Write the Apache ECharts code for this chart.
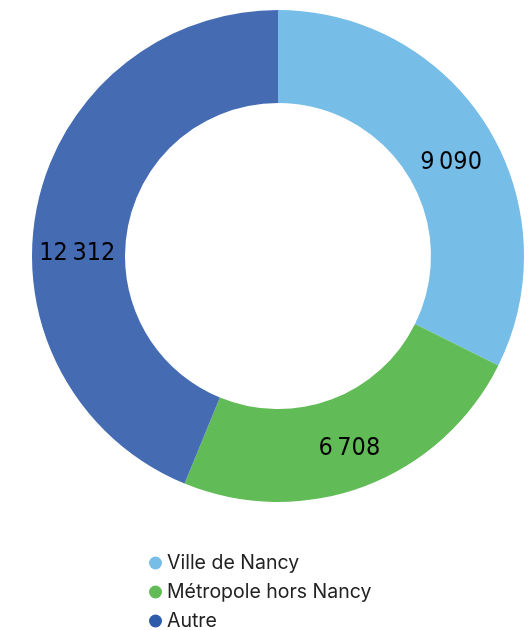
<!DOCTYPE html>
<html>
<head>
<meta charset="utf-8">
<script src="https://cdn.jsdelivr.net/npm/echarts@6/dist/echarts.min.js"></script>
<style>
  html, body { margin: 0; padding: 0; background: #fff; }
  #pie_chart { width: 530px; height: 630px; }
</style>
</head>
<body>
<div id="pie_chart"></div>
<script>
// 数据
const categories = ['Ville de Nancy', 'Métropole hors Nancy', 'Autre'];
const values = [9090, 6708, 12312];
const colors = ['#76BDE8', '#61BB56', '#456CB3'];
const legendColors = ['#76BDE8', '#61BB56', '#2E5BAA'];
// 标签微调
const labelShift = [[1, 13], [0, 3], [-2, 37]];

// 千位窄空格
function fmt(v) {
  return String(v).replace(/\B(?=(\d{3})+(?!\d))/g, '\u2009');
}

const chart = echarts.init(document.getElementById('pie_chart'));

const option = {
  animation: false,
  legend: {
    orient: 'vertical',
    left: 144,
    top: 548,
    height: 90,
    icon: 'circle',
    itemWidth: 13,
    itemHeight: 13,
    itemGap: 9,
    textStyle: {
      color: '#222',
      fontSize: 19.5,
      fontFamily: 'Inter',
    },
    data: categories.map((name, i) => ({
      name: name,
      itemStyle: { color: legendColors[i] }
    })),
  },
  series: [{
    type: 'pie',
    center: [278, 256],
    radius: [153, 246],
    startAngle: 90,
    clockwise: true,
    label: {
      show: true,
      position: 'inside',
      color: '#000',
      fontSize: 25,
      fontFamily: "'DejaVu Sans Condensed', sans-serif",
      formatter: p => fmt(p.value),
    },
    labelLayout: p => ({ dx: labelShift[p.dataIndex][0], dy: labelShift[p.dataIndex][1] }),
    labelLine: { show: false },
    emphasis: { disabled: true },
    data: categories.map((name, i) => ({
      name: name,
      value: values[i],
      itemStyle: { color: colors[i] }
    })),
  }]
};

chart.setOption(option);
</script>
</body>
</html>
